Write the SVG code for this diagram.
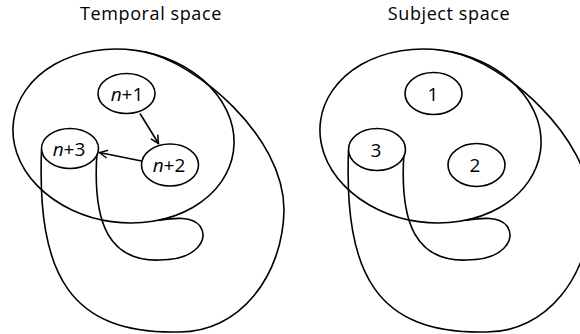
<svg xmlns="http://www.w3.org/2000/svg" width="580" height="334" viewBox="0 0 580 334">
  <defs>
    <style>
      .ln { fill: none; stroke: #000; stroke-width: 1.6; }
      .nd { fill: #fff; stroke: #000; stroke-width: 1.6; }
      .title { font-family: "Open Sans", "Liberation Sans", sans-serif; font-size: 18px; letter-spacing: 0.6px; fill: #000; text-anchor: middle; }
      .lbl { font-family: "Open Sans", "Liberation Sans", sans-serif; font-size: 19px; fill: #000; text-anchor: middle; }
      .it { font-style: italic; }
    </style>
    <marker id="arr" viewBox="0 0 10 10" refX="9" refY="5" markerWidth="10" markerHeight="10" markerUnits="userSpaceOnUse" orient="auto">
      <path d="M1,1 L9,5 L1,9" fill="none" stroke="#000" stroke-width="1.5"/>
    </marker>
  </defs>
  <rect width="580" height="334" fill="#fff"/>

  <text class="title" x="151" y="19.5">Temporal space</text>
  <text class="title" x="449" y="19.5">Subject space</text>

  <!-- Temporal space -->
  <g id="temporal-space">
    <ellipse class="ln" cx="123.5" cy="136" rx="111" ry="86.5" transform="rotate(8 123.5 136)"/>
    <path class="ln" d="M41.5,150 C37,275 70,334 178,332 C240,333 283,275 284,210 C284,135 195,62.5 145,52"/>
    <path class="ln" d="M97,152 C92,225 110,262 160,260 C195,260 210,240 200,226 C192,216 175,218 159,220.1"/>
  </g>

  <g id="connectors">
    <line class="ln" x1="140" y1="113.5" x2="158.5" y2="143.5" marker-end="url(#arr)"/>
    <line class="ln" x1="141.5" y1="161" x2="99.5" y2="152.5" marker-end="url(#arr)"/>
  </g>

  <g id="n1">
    <ellipse class="nd" cx="126.5" cy="93.5" rx="28.5" ry="20"/>
    <text class="lbl" x="127" y="100.5"><tspan class="it">n</tspan>+1</text>
  </g>
  <g id="n2">
    <ellipse class="nd" cx="170" cy="165" rx="28.5" ry="21"/>
    <text class="lbl" x="169" y="172"><tspan class="it">n</tspan>+2</text>
  </g>
  <g id="n3">
    <ellipse class="nd" cx="70" cy="148.5" rx="28.5" ry="20"/>
    <text class="lbl" x="69" y="156"><tspan class="it">n</tspan>+3</text>
  </g>

  <!-- Subject space -->
  <g id="subject-space">
    <ellipse class="ln" cx="430.5" cy="136" rx="111" ry="86.5" transform="rotate(8 430.5 136)"/>
    <path class="ln" d="M348.5,150 C344,275 377,334 485,332 C547,333 590,275 591,210 C591,135 502,62.5 452,52"/>
    <path class="ln" d="M404,152 C399,225 417,262 467,260 C502,260 517,240 507,226 C499,216 482,218 466,220.1"/>
  </g>

  <g id="s1">
    <ellipse class="nd" cx="433.5" cy="93.5" rx="28.5" ry="21"/>
    <text class="lbl" x="433" y="100.5">1</text>
  </g>
  <g id="s2">
    <ellipse class="nd" cx="476.5" cy="165" rx="28.5" ry="21.5"/>
    <text class="lbl" x="475" y="172">2</text>
  </g>
  <g id="s3">
    <ellipse class="nd" cx="377" cy="149.5" rx="28.5" ry="21"/>
    <text class="lbl" x="376" y="156.5">3</text>
  </g>
</svg>
